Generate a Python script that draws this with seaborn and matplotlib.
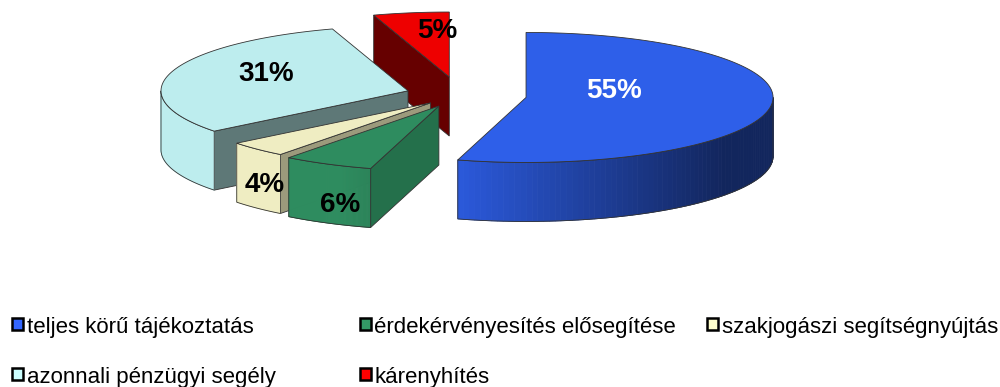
import numpy as np
import matplotlib
matplotlib.use("Agg")
import matplotlib.pyplot as plt
import seaborn as sns
from matplotlib.patches import Polygon, Rectangle
from matplotlib.colors import to_rgb

# ---- data ----
categories = ["teljes körű tájékoztatás", "érdekérvényesítés elősegítése",
              "szakjogászi segítségnyújtás", "azonnali pénzügyi segély", "kárenyhítés"]
values = [55, 6, 4, 31, 5]
pct_labels = ["55%", "6%", "4%", "31%", "5%"]

# ---- style ----
legend_colors = ["#3366FF", "#339966", "#FFFFCC", "#CCFFFF", "#FF0000"]
top_colors = ["#2E5FE9", "#2E8C5F", "#EFEDC2", "#BDEDEE", "#EE0000"]
cut_colors = ["#1A2E80", "#24704B", "#9C9A7C", "#5E7877", "#660000"]
explode = [0.27, 0.19, 0.17, 0.22, 0.28]
label_r = [0.36, 0.89, 0.957, 0.6, 0.72]
label_dz = [-10, 47, 38, -5, 0]
label_dx = [0, 0, 0, 0, 16]
label_colors = ["white", "black", "black", "black", "black"]

sns.set_theme(style="white")
plt.rcParams['font.family'] = ['Liberation Sans', 'DejaVu Sans']

fig = plt.figure(figsize=(10, 3.87), dpi=100)
fig.patch.set_facecolor("white")
ax = fig.add_axes([0, 0, 1, 1])
ax.set_xlim(0, 1000)
ax.set_ylim(387, 0)
ax.axis('off')

CX, CY, RX, RY, DEPTH = 460, 95, 247, 65, 59
EDGE = "#333333"

fracs = np.array(values, dtype=float) / np.sum(values)
bounds = np.concatenate([[0.0], np.cumsum(fracs) * 360.0])


def pt(apex, ang, r=1.0, z=0.0):
    t = np.radians(ang)
    return (apex[0] + r * RX * np.sin(t), apex[1] - r * RY * np.cos(t) + z)


def shade(color, f):
    c = np.array(to_rgb(color)) * f
    return tuple(np.clip(c, 0, 1))


slices = []
for i in range(len(values)):
    a1, a2 = bounds[i], bounds[i + 1]
    mid = 0.5 * (a1 + a2)
    t = np.radians(mid)
    apex = (CX + explode[i] * RX * np.sin(t), CY - explode[i] * RY * np.cos(t))
    slices.append((apex[1], i, a1, a2, mid, apex))

for _, i, a1, a2, mid, apex in sorted(slices):
    # radial cut faces
    for a, normal in [(a1, a1 - 90), (a2, a2 + 90)]:
        if np.cos(np.radians(normal)) < -1e-3:
            poly = [pt(apex, a, 0), pt(apex, a, 1), pt(apex, a, 1, DEPTH), pt(apex, a, 0, DEPTH)]
            ax.add_patch(Polygon(poly, closed=True, facecolor=cut_colors[i],
                                 edgecolor=EDGE, lw=0.6, zorder=2))
    # outer side
    b1, b2 = max(a1, 90), min(a2, 270)
    if b2 > b1:
        angs = np.linspace(b1, b2, 80)
        for k in range(len(angs) - 1):
            m = 0.5 * (angs[k] + angs[k + 1])
            f = np.clip(0.8 - 0.5 * np.sin(np.radians(m)), 0.4, 1.0)
            col = shade(top_colors[i], f)
            quad = [pt(apex, angs[k]), pt(apex, angs[k + 1]),
                    pt(apex, angs[k + 1], 1, DEPTH), pt(apex, angs[k], 1, DEPTH)]
            ax.add_patch(Polygon(quad, closed=True, facecolor=col, edgecolor=col,
                                 lw=0.6, zorder=2))
        outline = [pt(apex, a) for a in angs] + [pt(apex, a, 1, DEPTH) for a in angs[::-1]]
        ax.add_patch(Polygon(outline, closed=True, facecolor="none",
                             edgecolor=EDGE, lw=0.6, zorder=2))
    # top face
    angs = np.linspace(a1, a2, 200)
    top = [apex] + [pt(apex, a) for a in angs]
    ax.add_patch(Polygon(top, closed=True, facecolor=top_colors[i],
                         edgecolor=EDGE, lw=0.6, zorder=2))
    lx, ly = pt(apex, mid, label_r[i])
    ax.text(lx + label_dx[i], ly + label_dz[i], pct_labels[i], ha="center", va="center",
            fontsize=20, fontweight="bold", color=label_colors[i], zorder=5)

# legend (row-major, 3 columns)
for i, (name, col) in enumerate(zip(categories, legend_colors)):
    c, r = i % 3, i // 3
    mx = 12 + c * 347.5
    my = 318 + r * 50
    ax.add_patch(Rectangle((mx, my), 11, 12, facecolor=col, edgecolor="black",
                           lw=1.8, zorder=5))
    ax.text(mx + 15, my + 15, name, ha="left", va="baseline", fontsize=16,
            color="black", zorder=5)

fig.savefig("out.png", dpi=100, facecolor="white")
